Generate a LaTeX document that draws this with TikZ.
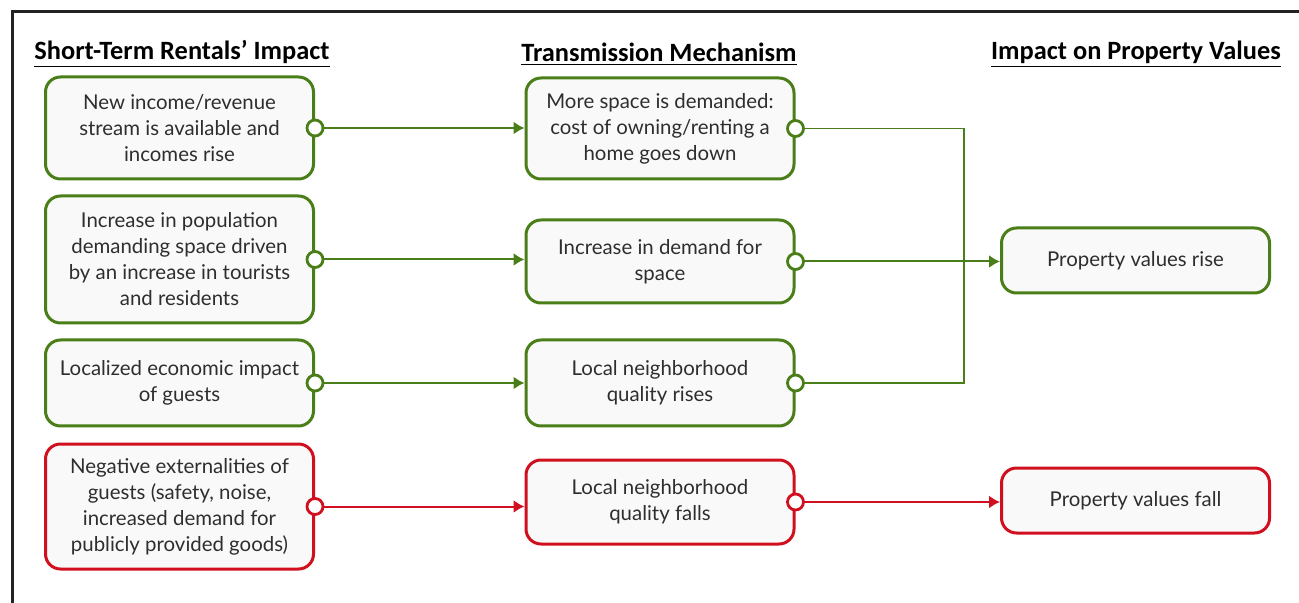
\documentclass[tikz,border=0pt]{standalone}
\usepackage{fontspec}
\usetikzlibrary{arrows.meta}
\newfontfamily\headfont{Carlito}
\newfontfamily\boxfont{Lato}
\definecolor{goodgreen}{RGB}{74,126,24}
\definecolor{badred}{RGB}{208,16,30}
\definecolor{boxfill}{RGB}{249,249,249}
\definecolor{framegray}{RGB}{35,35,35}
\newcommand*{\colL}{179.5}
\newcommand*{\colM}{660}
\newcommand*{\colR}{1135.5}
\newcommand*{\busx}{964}
\newcommand*{\portr}{4pt}
\tikzset{
  box/.style={draw, rounded corners=7.5pt, line width=1.5pt, fill=boxfill,
    align=center, inner sep=0pt, minimum width=134pt,
    font=\boxfont\fontsize{10.2}{13}\selectfont, text=black!82},
  good/.style={box, draw=goodgreen},
  bad/.style={box, draw=badred},
  head/.style={font=\headfont\bfseries\fontsize{13.2}{15}\selectfont},
  link/.style={line width=1pt, -{Latex[length=5.5pt,width=6.5pt]}},
  port/.style={line width=1.4pt, fill=white}
}
\begin{document}
\begin{tikzpicture}[x=0.5pt,y=-0.5pt]
    \useasboundingbox (0,0) rectangle (1299,603);
    \draw [framegray, line width=1.5pt] (12,603) -- (12,12) -- (1299,12);
    % column headers
    \node [head] (hL) at (182,  54) {\underline{Short-Term Rentals’ Impact}};
    \node [head] (hM) at (659,  54) {\underline{Transmission Mechanism}};
    \node [head] (hR) at (1136, 54) {\underline{Impact on Property Values}};
    % short-term rental effects
    \node [good, minimum height=51pt]   (a1) at (\colL, 128)   {New income/revenue\\stream is available and\\incomes rise};
    \node [good, minimum height=63.5pt] (a2) at (\colL, 259.5) {Increase in population\\demanding space driven\\by an increase in tourists\\and residents};
    \node [good, minimum height=43pt]   (a3) at (\colL, 383)   {Localized economic impact\\of guests};
    \node [bad,  minimum height=62.5pt] (a4) at (\colL, 506.5) {Negative externalities of\\guests (safety, noise,\\increased demand for\\publicly provided goods)};
    % mechanisms
    \node [good, minimum height=50.5pt] (b1) at (\colM, 128.5) {More space is demanded:\\cost of owning/renting a\\home goes down};
    \node [good, minimum height=41.5pt] (b2) at (\colM, 261.5) {Increase in demand for\\space};
    \node [good, minimum height=43pt]   (b3) at (\colM, 383)   {Local neighborhood\\quality rises};
    \node [bad,  minimum height=42pt]   (b4) at (\colM, 502)   {Local neighborhood\\quality falls};
    % outcomes
    \node [good, minimum height=32.5pt] (c1) at (\colR, 260.5) {Property values rise};
    \node [bad,  minimum height=32.5pt] (c2) at (\colR, 500.5) {Property values fall};
    \coordinate (bus) at (\busx, 0);
    \draw [link, goodgreen] (a1.east) -- (a1.east -| b1.west);
    \draw [link, goodgreen] (a2.east) -- (a2.east -| b2.west);
    \draw [link, goodgreen] (a3.east) -- (a3.east -| b3.west);
    \draw [link, badred]    (a4.east) -- (a4.east -| b4.west);
    \draw [link, goodgreen] (b2.east) -- (b2.east -| c1.west);
    \draw [link, badred]    (b4.east) -- (b4.east -| c2.west);
    \draw [goodgreen, line width=0.8pt] (b1.east) -| (bus |- b3.east) -- (b3.east);
    \foreach \n in {a1,a2,a3,b1,b2,b3} \draw [port, draw=goodgreen] (\n.east) circle (\portr);
    \foreach \n in {a4,b4} \draw [port, draw=badred] (\n.east) circle (\portr);
\end{tikzpicture}
\end{document}
